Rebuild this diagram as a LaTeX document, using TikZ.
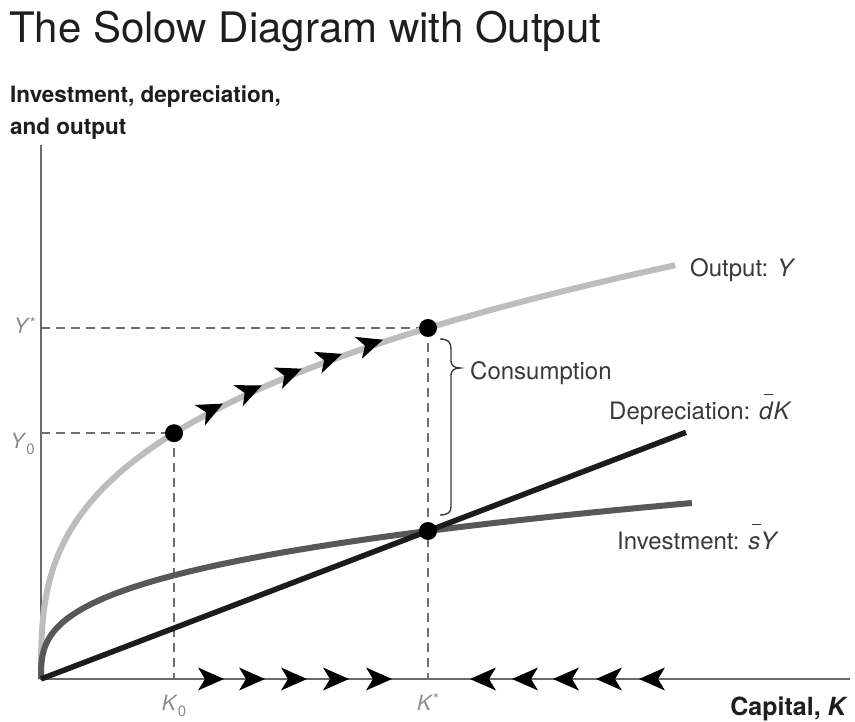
\documentclass[tikz,border=0pt]{standalone}
\usepackage{fontspec}
\setmainfont{TeX Gyre Heros}
\usetikzlibrary{arrows.meta}

\definecolor{titleink}{HTML}{1E1E1E}
\definecolor{axisgray}{HTML}{6A6A6A}
\definecolor{guidegray}{HTML}{6E6E6E}
\definecolor{outgray}{HTML}{BDBDBD}
\definecolor{invgray}{HTML}{585858}
\definecolor{depblack}{HTML}{1C1C1C}
\definecolor{labelgray}{HTML}{3A3A3A}
\definecolor{tickgray}{HTML}{8A8A8A}

% italic letter with a short bar above it
\newcommand\barletter[1]{\ooalign{\textit{#1}\cr\hidewidth\kern0.15em\raisebox{0.98em}{\rule{0.38em}{0.055em}}\hidewidth\cr}}
% tick marks: star and zero index
\newcommand\starmark{\raisebox{0.28em}{\fontsize{15}{15}\selectfont *}}
\newcommand\zeromark{\raisebox{-0.32em}{\fontsize{15}{15}\selectfont 0}}

\begin{document}
\begin{tikzpicture}[x=1pt,y=-1pt,
  axis/.style={draw=axisgray,line width=2pt},
  guide/.style={draw=guidegray,line width=1.6pt,dash pattern=on 9pt off 6pt},
  outcurve/.style={draw=outgray,line width=6pt},
  invcurve/.style={draw=invgray,line width=6pt},
  depline/.style={draw=depblack,line width=5.5pt},
  dot/.style={circle,fill=black,inner sep=0pt,minimum size=18pt},
  bracestroke/.style={draw=labelgray,line width=1.4pt},
  curvelabel/.style={font=\fontsize{24}{28}\selectfont,text=labelgray,anchor=base west,inner sep=0pt},
  ticklabel/.style={font=\fontsize{21}{24}\selectfont,text=tickgray,inner sep=0pt},
  axislabel/.style={font=\bfseries\fontsize{22.5}{30}\selectfont,text=titleink,inner sep=0pt},
]
\useasboundingbox (0,0) rectangle (855,722);

% key points
\coordinate (O) at (41,679);
\coordinate (ytop) at (41,145);
\coordinate (xend) at (850,679);
\coordinate (Ystar) at (41,328);
\coordinate (Yzero) at (41,433.2);
\coordinate (Kstar) at (428,679);
\coordinate (Kzero) at (174,679);
\coordinate (A) at (174,433.2);
\coordinate (B) at (428,328);
\coordinate (C) at (428,531);

% title and axis captions
\node[anchor=base west,inner sep=0pt,font=\fontsize{42}{48}\selectfont,text=titleink] (title) at (9,43) {The Solow Diagram with Output};
\node[axislabel,anchor=base west] (ylab1) at (10,103) {Investment, depreciation,};
\node[axislabel,anchor=base west] (ylab2) at (10,135) {and output};
\node[axislabel,anchor=base east,font=\bfseries\fontsize{25}{30}\selectfont] (xlab) at (848,715) {Capital, \textit{K}};

% axes
\draw[axis] (ytop) -- (O) -- (xend);

% guide lines
\draw[guide] (Ystar) -- (B);
\draw[guide] (Yzero) -- (A);
\draw[guide] (A) -- (Kzero);
\draw[guide] (B) -- (Kstar);

% tick labels
\node[ticklabel,anchor=base east] (lYs) at (36,334) {\textit{Y}\starmark};
\node[ticklabel,anchor=base east] (lY0) at (35,448) {\textit{Y}\zeromark};
\node[ticklabel,anchor=base] (lK0) at (174,710) {\textit{K}\zeromark};
\node[ticklabel,anchor=base] (lKs) at (428,710) {\textit{K}\starmark};

% output, investment and depreciation
\draw[outcurve] plot[domain=0:8.594,samples=140,smooth,variable=\t] ({41+\t^3},{679-48.16*\t});
\draw[invcurve] plot[domain=0:8.667,samples=140,smooth,variable=\t] ({41+\t^3},{679-20.31*\t});
\draw[depline] (O) -- (686,432.3);

% motion along the output curve
\foreach \tx/\ty/\ang in {223/403.6/26.6, 262/385.3/23.7, 302/368.7/21.5, 342/353.9/19.7, 383/339.7/18.2}
  \fill[black,shift={(\tx,\ty)},rotate=\ang] (0,0) -- (-26,11.5) -- (-19,0) -- (-26,-11.5) -- cycle;

% motion along the capital axis
\foreach \tx in {224,265,307,349,392}
  \fill[black] (\tx,679) -- (\tx-26,667.5) -- (\tx-19,679) -- (\tx-26,690.5) -- cycle;
\foreach \tx in {470,512,553,596,639}
  \fill[black] (\tx,679) -- (\tx+26,667.5) -- (\tx+19,679) -- (\tx+26,690.5) -- cycle;

% points on the curves
\node[dot] (dA) at (A) {};
\node[dot] (dB) at (B) {};
\node[dot] (dC) at (C) {};

% consumption brace
\draw[bracestroke] (440,339) .. controls (448,339) and (451,342) .. (451,349) -- (451,361)
  .. controls (451,365) and (454,368) .. (460,368)
  .. controls (454,368) and (451,371) .. (451,375) -- (451,507)
  .. controls (451,512) and (448,515) .. (440,515);

% curve labels
\node[curvelabel] (lout) at (690,277) {Output: \textit{Y}};
\node[curvelabel] (lcons) at (470,379) {Consumption};
\node[curvelabel] (ldep) at (609,419) {Depreciation: \barletter{d}\textit{K}};
\node[curvelabel] (linv) at (617,549) {Investment: \barletter{s}\textit{Y}};
\end{tikzpicture}
\end{document}
